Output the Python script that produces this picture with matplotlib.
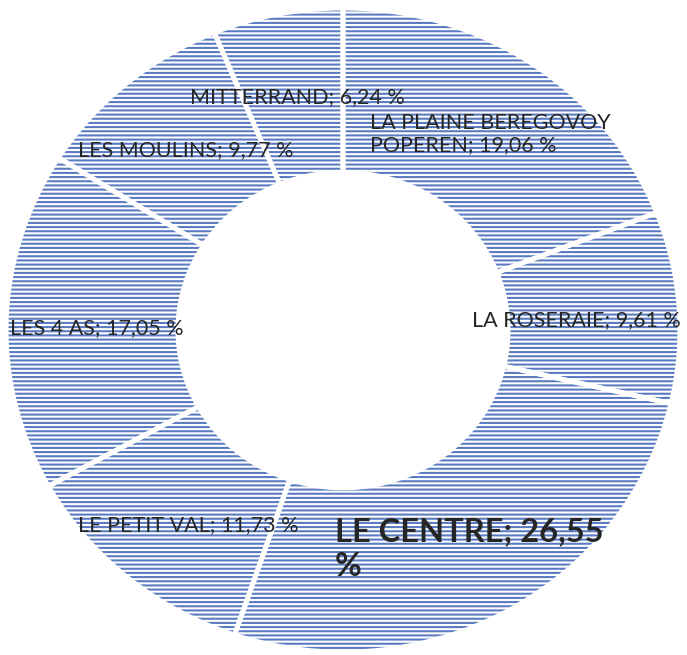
"""Donut chart: share by district."""

import matplotlib.pyplot as plt

districts = [
    "LA PLAINE BEREGOVOY\nPOPEREN",
    "LA ROSERAIE",
    "LE CENTRE",
    "LE PETIT VAL",
    "LES 4 AS",
    "LES MOULINS",
    "MITTERRAND",
]
shares = [19.06, 9.61, 26.55, 11.73, 17.05, 9.77, 6.24]

# label anchor (left edge, vertical centre) in figure fraction
label_pos = [
    (370 / 687, 1 - 134 / 655),
    (472 / 687, 1 - 320 / 655),
    (335 / 687, 1 - 549 / 655),
    (78 / 687, 1 - 525 / 655),
    (10 / 687, 1 - 328 / 655),
    (78 / 687, 1 - 150 / 655),
    (190 / 687, 1 - 97 / 655),
]

blue = "#5a7bc2"
plt.rcParams["hatch.linewidth"] = 1.5

fig = plt.figure(figsize=(6.87, 6.55), dpi=100)
ax = fig.add_axes([0, 0, 1, 1])

ax.pie(
    shares,
    startangle=90,
    counterclock=False,
    radius=1,
    wedgeprops=dict(width=0.51, facecolor="white", edgecolor=blue,
                    linewidth=0, hatch="----"),
)
# white separators between slices
ax.pie(
    shares,
    startangle=90,
    counterclock=False,
    radius=1,
    wedgeprops=dict(width=0.51, facecolor="none", edgecolor="white",
                    linewidth=3.5),
)

ax.set_aspect("auto")
ax.set_xlim(-1.018, 1.021)
ax.set_ylim(-1.009, 1.025)
ax.axis("off")

for name, val, (x, y) in zip(districts, shares, label_pos):
    txt = f"{name}; {val:.2f} %".replace(".", ",")
    big = name == "LE CENTRE"
    if big:
        txt = f"{name}; {val:.2f}\n%".replace(".", ",")
    fig.text(
        x, y, txt,
        ha="left", va="center",
        fontsize=23.5 if big else 15.5,
        fontweight="bold" if big else "normal",
        family="Lato",
        color="#262626",
        linespacing=1.25 if big else 1.15,
    )

fig.savefig("out.png", dpi=100)
